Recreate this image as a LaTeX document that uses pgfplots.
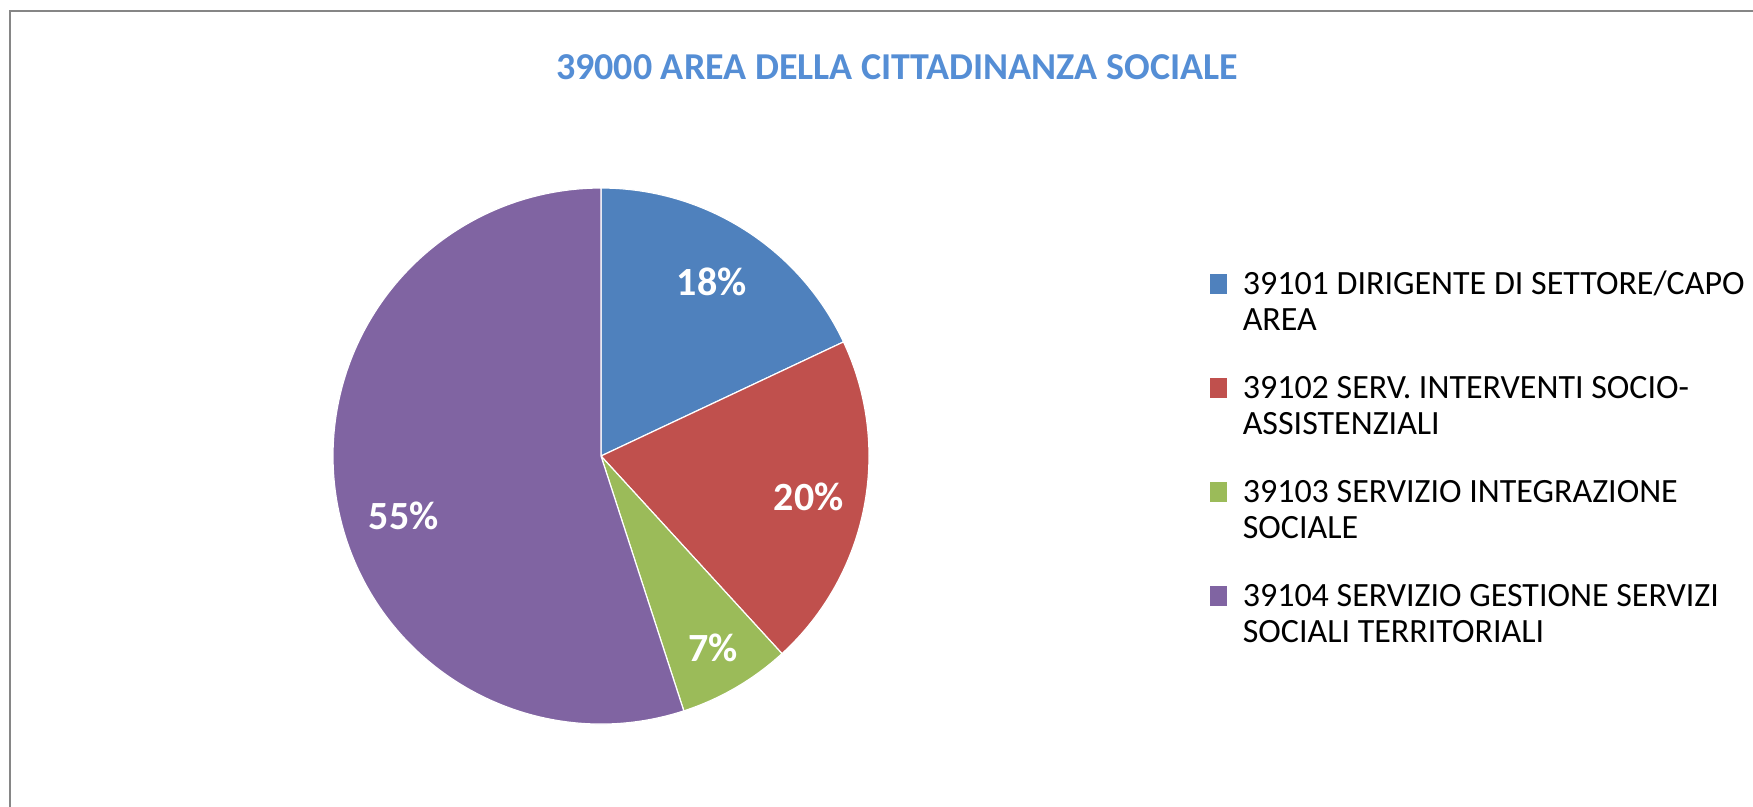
\documentclass[border=0pt]{standalone}
\usepackage{fontspec}
\setmainfont{Carlito}
\usepackage{pgfplots}
\usepackage{pgfplotstable}
\pgfplotsset{compat=1.18}

\definecolor{slice0}{HTML}{4F81BD}
\definecolor{slice1}{HTML}{C0504D}
\definecolor{slice2}{HTML}{9BBB59}
\definecolor{slice3}{HTML}{8064A2}
\definecolor{titleblue}{HTML}{558ED5}
\definecolor{framegray}{HTML}{868686}

\newcommand\labelfont{\fontsize{20bp}{24bp}\selectfont\bfseries}
\newcommand\entry[2]{\parbox[t]{262bp}{\strut #1\\#2\strut}}

\pgfplotsset{sq/.style={legend image code/.code={\fill[#1] (0bp,0.3bp) rectangle (8bp,9.8bp);}}}

% share of each item (percent); lr/la = label radius and angle offset
\pgfplotstableread{
code value lr la
39101 18.0 0.77 0
39102 20.2 0.79 0
39103 6.8 0.83 0
39104 55.0 0.77 8
}\piedata

\begin{document}
\begin{tikzpicture}
\begin{scope}[x=0.5bp,y=-0.5bp]
  \draw[framegray, line width=1.2bp] (10,807) -- (10,11) -- (1753,11);
  \node[font=\fontsize{19bp}{23bp}\selectfont\bfseries, text=titleblue] at (897,67)
    {39000 AREA DELLA CITTADINANZA SOCIALE};
\end{scope}
\begin{axis}[
    at={(300.5bp,-228bp)}, anchor=center,
    hide axis, scale only axis, clip=false,
    width=268bp, height=268bp,
    xmin=-1, xmax=1, ymin=-1, ymax=1,
    legend style={at={(1.6362,0.8567)}, anchor=north west,
      draw=none, fill=none, inner sep=0pt, outer sep=0pt,
      font=\fontsize{17bp}{18bp}\selectfont,
      cells={anchor=base west}, column sep=6bp, row sep=34bp},
  ]
  \pgfplotstablegetrowsof{\piedata}
  \pgfmathtruncatemacro\lastrow{\pgfplotsretval-1}
  \def\angstart{90}
  \pgfplotsforeachungrouped \i in {0,...,\lastrow}{%
    \pgfplotstablegetelem{\i}{value}\of\piedata
    \let\val\pgfplotsretval
    \pgfplotstablegetelem{\i}{lr}\of\piedata
    \let\lr\pgfplotsretval
    \pgfplotstablegetelem{\i}{la}\of\piedata
    \let\la\pgfplotsretval
    \pgfmathsetmacro\angend{\angstart-3.6*\val}
    \pgfmathsetmacro\angmid{(\angstart+\angend)/2+\la}
    \pgfmathtruncatemacro\pct{round(\val)}
    \edef\slice{%
      \noexpand\fill[slice\i, draw=white, line width=0.6bp] (axis cs:0,0) --
        (axis cs:{cos(\angstart)},{sin(\angstart)})
        arc[start angle=\angstart, end angle=\angend, radius=134bp] -- cycle;
      \noexpand\node[text=white, font=\noexpand\labelfont]
        at (axis cs:{\lr*cos(\angmid)},{\lr*sin(\angmid)}) {\pct\noexpand\%};
    }%
    \slice
    \let\angstart\angend
  }
  \addlegendimage{sq=slice0}
  \addlegendentry{\entry{39101 DIRIGENTE DI SETTORE/CAPO}{AREA}}
  \addlegendimage{sq=slice1}
  \addlegendentry{\entry{39102 SERV. INTERVENTI SOCIO-}{ASSISTENZIALI}}
  \addlegendimage{sq=slice2}
  \addlegendentry{\entry{39103 SERVIZIO INTEGRAZIONE}{SOCIALE}}
  \addlegendimage{sq=slice3}
  \addlegendentry{\entry{39104 SERVIZIO GESTIONE SERVIZI}{SOCIALI TERRITORIALI}}
\end{axis}
\pgfresetboundingbox
\useasboundingbox (0,0) rectangle (876.5bp,-403.5bp);
\end{tikzpicture}
\end{document}
